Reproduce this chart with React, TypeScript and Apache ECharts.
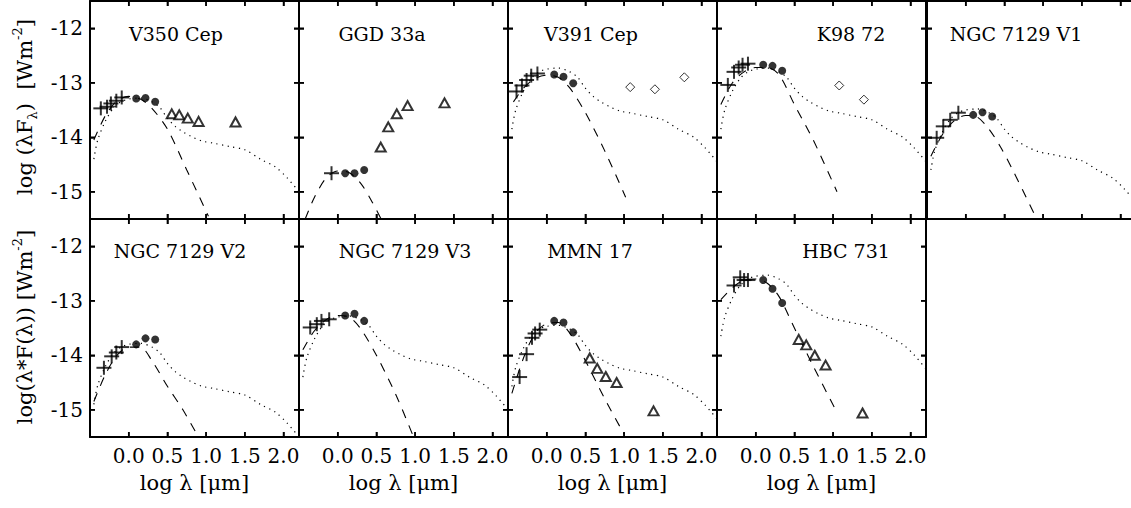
import React, { useEffect, useRef } from "react";
import * as echarts from "echarts";

// ---------- data (log lambda [um], log lambda*F_lambda [W m^-2]) ----------
const panelNames = [
  "V350 Cep", "GGD 33a", "V391 Cep", "K98 72", "NGC 7129 V1",
  "NGC 7129 V2", "NGC 7129 V3", "MMN 17", "HBC 731",
];

const xMin = -0.5;
const xMax = 2.2;
const yMin = -15.5;
const yMax = -11.5;
const xTickValues = [0.0, 0.5, 1.0, 1.5, 2.0];
const yTickValues = [-15, -14, -13, -12];

// optical photometry (crosses)
const plusPoints: number[][][] = [
  [[-0.36, -13.47], [-0.28, -13.44], [-0.23, -13.38], [-0.16, -13.33], [-0.09, -13.27]],
  [[-0.08, -14.66]],
  [[-0.39, -13.16], [-0.32, -13.05], [-0.26, -12.95], [-0.2, -12.87], [-0.12, -12.83]],
  [[-0.36, -13.04], [-0.28, -12.8], [-0.22, -12.72], [-0.17, -12.67], [-0.1, -12.65]],
  [[-0.375, -14.01], [-0.29, -13.8], [-0.2, -13.68], [-0.095, -13.55]],
  [[-0.32, -14.23], [-0.22, -14.02], [-0.16, -13.95], [-0.09, -13.85]],
  [[-0.355, -13.49], [-0.27, -13.43], [-0.21, -13.37], [-0.11, -13.34]],
  [[-0.35, -14.4], [-0.26, -13.98], [-0.19, -13.68], [-0.15, -13.6], [-0.09, -13.53]],
  [[-0.28, -12.72], [-0.2, -12.57], [-0.15, -12.62], [-0.1, -12.62]],
];

// JHK (filled circles)
const circlePoints: number[][][] = [
  [[0.097, -13.29], [0.217, -13.28], [0.342, -13.35]],
  [[0.097, -14.66], [0.217, -14.66], [0.342, -14.6]],
  [[0.097, -12.85], [0.217, -12.89], [0.342, -13.01]],
  [[0.097, -12.67], [0.217, -12.69], [0.342, -12.78]],
  [[0.097, -13.59], [0.217, -13.54], [0.342, -13.62]],
  [[0.097, -13.8], [0.217, -13.69], [0.342, -13.71]],
  [[0.097, -13.27], [0.217, -13.24], [0.342, -13.37]],
  [[0.097, -13.37], [0.217, -13.4], [0.342, -13.58]],
  [[0.097, -12.62], [0.217, -12.78], [0.342, -13.04]],
];

// Spitzer (open triangles)
const trianglePoints: number[][][] = [
  [[0.556, -13.57], [0.653, -13.59], [0.763, -13.65], [0.903, -13.71], [1.38, -13.72]],
  [[0.556, -14.18], [0.653, -13.81], [0.763, -13.57], [0.903, -13.42], [1.38, -13.37]],
  [], [], [], [], [],
  [[0.556, -14.05], [0.653, -14.24], [0.763, -14.39], [0.903, -14.5], [1.38, -15.02]],
  [[0.556, -13.71], [0.653, -13.81], [0.763, -14.0], [0.903, -14.18], [1.38, -15.06]],
];

// IRAS (open diamonds)
const diamondPoints: number[][][] = [
  [], [],
  [[1.079, -13.08], [1.398, -13.12], [1.778, -12.9]],
  [[1.079, -13.05], [1.398, -13.31]],
  [], [], [], [], [],
];

// photosphere (dashed)
const dashedModel: number[][][] = [
  [[-0.45, -14.05], [-0.3, -13.6], [-0.15, -13.33], [0, -13.25], [0.15, -13.3], [0.3, -13.47], [0.5, -13.85], [0.75, -14.6], [1.03, -15.45]],
  [[-0.42, -15.5], [-0.3, -15.1], [-0.15, -14.75], [0, -14.62], [0.15, -14.65], [0.3, -14.85], [0.45, -15.2], [0.56, -15.5]],
  [[-0.43, -13.35], [-0.3, -13.1], [-0.15, -12.92], [0, -12.86], [0.15, -12.9], [0.3, -13.1], [0.5, -13.55], [0.75, -14.25], [1.02, -15.1]],
  [[-0.45, -13.4], [-0.3, -13.0], [-0.15, -12.8], [0, -12.72], [0.15, -12.72], [0.3, -12.85], [0.5, -13.4], [0.75, -14.07], [1.05, -15.0]],
  [[-0.45, -14.35], [-0.3, -13.95], [-0.15, -13.7], [0, -13.6], [0.15, -13.63], [0.3, -13.85], [0.45, -14.18], [0.6, -14.58], [0.9, -15.45]],
  [[-0.45, -14.85], [-0.3, -14.35], [-0.15, -14.0], [0, -13.85], [0.15, -13.85], [0.3, -14.1], [0.5, -14.57], [0.7, -15.0], [0.9, -15.5]],
  [[-0.45, -13.9], [-0.3, -13.55], [-0.15, -13.35], [0, -13.27], [0.15, -13.3], [0.3, -13.52], [0.5, -14.0], [0.75, -14.72], [0.98, -15.5]],
  [[-0.45, -14.7], [-0.3, -14.05], [-0.15, -13.6], [0, -13.42], [0.15, -13.4], [0.3, -13.6], [0.5, -14.1], [0.75, -14.8], [1.0, -15.45]],
  [[-0.45, -12.98], [-0.3, -12.76], [-0.15, -12.62], [0, -12.6], [0.15, -12.68], [0.3, -12.92], [0.5, -13.5], [0.75, -14.22], [1.05, -15.05]],
];

// median SED (dotted)
const dottedX = [-0.45, -0.4, -0.3, -0.2, -0.1, 0.0, 0.15, 0.3, 0.4, 0.5, 0.6, 0.7, 0.8, 0.95, 1.1, 1.3, 1.5, 1.7, 1.9, 2.05, 2.2];
const dottedY: (number[] | null)[] = [
  [-14.4, -14.05, -13.7, -13.47, -13.35, -13.3, -13.28, -13.35, -13.45, -13.65, -13.8, -13.9, -13.98, -14.07, -14.11, -14.17, -14.23, -14.4, -14.55, -14.75, -15.0],
  null,
  [-13.85, -13.5, -13.15, -12.92, -12.8, -12.75, -12.73, -12.8, -12.9, -13.1, -13.25, -13.35, -13.43, -13.52, -13.56, -13.62, -13.68, -13.85, -14.0, -14.2, -14.45],
  [-13.85, -13.5, -13.15, -12.92, -12.8, -12.75, -12.73, -12.8, -12.9, -13.1, -13.25, -13.35, -13.43, -13.52, -13.56, -13.62, -13.68, -13.85, -14.0, -14.2, -14.45],
  [-14.6, -14.25, -13.9, -13.67, -13.55, -13.5, -13.48, -13.55, -13.65, -13.85, -14.0, -14.1, -14.18, -14.27, -14.31, -14.37, -14.43, -14.6, -14.75, -14.95, -15.2],
  [-14.9, -14.55, -14.2, -13.97, -13.85, -13.8, -13.78, -13.85, -13.95, -14.15, -14.3, -14.4, -14.48, -14.57, -14.61, -14.67, -14.73, -14.9, -15.05, -15.25, -15.5],
  [-14.4, -14.05, -13.7, -13.47, -13.35, -13.3, -13.28, -13.35, -13.45, -13.65, -13.8, -13.9, -13.98, -14.07, -14.11, -14.17, -14.23, -14.4, -14.55, -14.75, -15.0],
  [-14.57, -14.22, -13.87, -13.64, -13.52, -13.47, -13.45, -13.52, -13.62, -13.82, -13.97, -14.07, -14.15, -14.24, -14.28, -14.34, -14.4, -14.57, -14.72, -14.92, -15.17],
  [-13.65, -13.3, -12.95, -12.72, -12.6, -12.55, -12.53, -12.6, -12.7, -12.9, -13.05, -13.15, -13.23, -13.32, -13.36, -13.42, -13.48, -13.65, -13.8, -14.0, -14.25],
];

const yTitles = [
  "log (λF{s|λ})  [Wm{p|-2}]",
  "log(λ*F(λ)) [Wm{p|-2}]",
];
const xTitle = "log λ [μm]";

// ---------- layout ----------
const FONT = "'DejaVu Serif', 'Liberation Serif', serif";
const CHART_W = 1150; // wider than the window; the last column is cut by the wrapper
const panelLeft = [90, 299, 508, 717, 927];
const panelTop = [1, 219];
const PW = 209;
const PH = 218;
const TICK = 5;
const titleCenter = [
  [176, 34], [382, 34], [591, 34], [851, 34], [1016, 34],
  [180, 251], [405, 251], [590, 251], [846, 251],
];

export default function App() {
  const ref = useRef<HTMLDivElement>(null);

  useEffect(() => {
    if (!ref.current) return;
    const chart = echarts.init(ref.current, undefined, { renderer: "svg" });

    const grids: any[] = [];
    const xAxes: any[] = [];
    const yAxes: any[] = [];
    const series: any[] = [];
    const graphics: any[] = [];

    const frameLine = { show: true, onZero: false, lineStyle: { color: "#000", width: 2 } };
    const innerTick = { show: true, inside: true, length: TICK, lineStyle: { color: "#000", width: 1.5 } };

    for (let i = 0; i < panelNames.length; i++) {
      const row = i < 5 ? 0 : 1;
      const col = i % 5;
      grids.push({
        left: panelLeft[col], top: panelTop[row], width: PW, height: PH,
        show: false, containLabel: false, outerBoundsMode: "none",
      });

      const xBase = {
        type: "value", gridIndex: i, min: xMin, max: xMax, interval: 0.5,
        splitLine: { show: false }, axisTick: innerTick, axisLine: frameLine,
      };
      const yBase = {
        type: "value", gridIndex: i, min: yMin, max: yMax, splitNumber: 4,
        splitLine: { show: false }, axisTick: innerTick, axisLine: frameLine,
      };
      const xi = xAxes.length;
      const yi = yAxes.length;
      xAxes.push({
        ...xBase, position: "bottom",
        axisLabel: {
          show: row === 1, showMinLabel: false, showMaxLabel: false,
          formatter: (v: number) => (xTickValues.some((t) => Math.abs(t - v) < 1e-6) ? v.toFixed(1) : ""),
          color: "#000", fontFamily: FONT, fontSize: 20, margin: 9,
        },
      });
      xAxes.push({ ...xBase, position: "top", axisLabel: { show: false } });
      yAxes.push({
        ...yBase, position: "left",
        axisLabel: {
          show: col === 0, showMinLabel: false, showMaxLabel: false,
          formatter: (v: number) => (yTickValues.some((t) => Math.abs(t - v) < 1e-6) ? String(Math.round(v)) : ""),
          color: "#000", fontFamily: FONT, fontSize: 20, margin: 7,
        },
      });
      yAxes.push({ ...yBase, position: "right", axisLabel: { show: false } });

      const ax = { xAxisIndex: xi, yAxisIndex: yi };
      const dy = dottedY[i];
      if (dy) {
        series.push({
          type: "line", ...ax, data: dottedX.map((x, k) => [x, dy[k]]),
          symbol: "none", smooth: 0.3, clip: true, silent: true, z: 1,
          lineStyle: { color: "#000", width: 1.2, type: [1.2, 4.5] },
        });
      }
      series.push({
        type: "line", ...ax, data: dashedModel[i],
        symbol: "none", smooth: 0.3, clip: true, silent: true, z: 1,
        lineStyle: { color: "#000", width: 1.1, type: [9, 8] },
      });
      series.push({
        type: "scatter", ...ax, data: plusPoints[i], symbol: "rect", symbolSize: [15, 2],
        itemStyle: { color: "#000" }, z: 3, silent: true,
      });
      series.push({
        type: "scatter", ...ax, data: plusPoints[i], symbol: "rect", symbolSize: [2, 14],
        itemStyle: { color: "#000" }, z: 3, silent: true,
      });
      series.push({
        type: "scatter", ...ax, data: circlePoints[i], symbol: "circle", symbolSize: 8,
        itemStyle: { color: "#000" }, z: 3, silent: true,
      });
      if (trianglePoints[i].length) {
        series.push({
          type: "scatter", ...ax, data: trianglePoints[i], symbol: "triangle", symbolSize: [10, 9],
          itemStyle: { color: "#fff", borderColor: "#000", borderWidth: 2 }, z: 3, silent: true,
        });
      }
      if (diamondPoints[i].length) {
        series.push({
          type: "scatter", ...ax, data: diamondPoints[i], symbol: "diamond", symbolSize: [9, 9],
          itemStyle: { color: "#fff", borderColor: "#000", borderWidth: 1 }, z: 3, silent: true,
        });
      }

      graphics.push({
        type: "text", x: titleCenter[i][0], y: titleCenter[i][1], silent: true,
        style: {
          text: panelNames[i], fill: "#000", fontFamily: FONT, fontSize: 19,
          align: "center", verticalAlign: "middle", textAlign: "center", textVerticalAlign: "middle",
        },
      });
      if (row === 1 && col < 4) {
        graphics.push({
          type: "text", x: panelLeft[col] + PW / 2, y: 483, silent: true,
          style: {
            text: xTitle, fill: "#000", fontFamily: FONT, fontSize: 21,
            align: "center", verticalAlign: "middle", textAlign: "center", textVerticalAlign: "middle",
          },
        });
      }
    }

    const rich = {
      s: { fontFamily: FONT, fontSize: 13, verticalAlign: "bottom", fill: "#000", lineHeight: 14 },
      p: { fontFamily: FONT, fontSize: 13, verticalAlign: "top", fill: "#000", lineHeight: 14 },
    };
    [107, 327].forEach((cy, r) => {
      graphics.push({
        type: "text", x: 25, y: cy, rotation: Math.PI / 2, silent: true,
        style: {
          text: yTitles[r], fill: "#000", fontFamily: FONT, fontSize: 21, lineHeight: 28,
          align: "center", verticalAlign: "middle", textAlign: "center", textVerticalAlign: "middle",
          rich,
        },
      });
    });

    chart.setOption({
      animation: false,
      backgroundColor: "#fff",
      grid: grids,
      xAxis: xAxes,
      yAxis: yAxes,
      series,
      graphic: graphics,
    });

    // inward tick marks on all four sides, positioned through each panel's scales
    const ticks: any[] = [];
    const tickLine = (x1: number, y1: number, x2: number, y2: number) => ({
      type: "line", silent: true, z: 100,
      shape: { x1, y1, x2, y2 },
      style: { stroke: "#000", lineWidth: 1.5 },
    });
    for (let i = 0; i < panelNames.length; i++) {
      const px = (x: number, y: number): number[] | null => {
        const p = chart.convertToPixel({ gridIndex: i } as any, [x, y]) as any;
        return Array.isArray(p) && isFinite(p[0]) && isFinite(p[1]) ? p : null;
      };
      xTickValues.forEach((x) => {
        const b = px(x, yMin);
        const t = px(x, yMax);
        if (b) ticks.push(tickLine(b[0], b[1], b[0], b[1] - TICK));
        if (t) ticks.push(tickLine(t[0], t[1], t[0], t[1] + TICK));
      });
      yTickValues.forEach((y) => {
        const l = px(xMin, y);
        const r = px(xMax, y);
        if (l) ticks.push(tickLine(l[0], l[1], l[0] + TICK, l[1]));
        if (r) ticks.push(tickLine(r[0], r[1], r[0] - TICK, r[1]));
      });
    }
    chart.setOption({ graphic: [...graphics, ...ticks] });

    return () => chart.dispose();
  }, []);

  return (
    <div style={{ position: "absolute", left: 0, top: 0, width: 1131, height: 508, overflow: "hidden" }}>
      <div ref={ref} style={{ width: CHART_W, height: 508 }} />
    </div>
  );
}
